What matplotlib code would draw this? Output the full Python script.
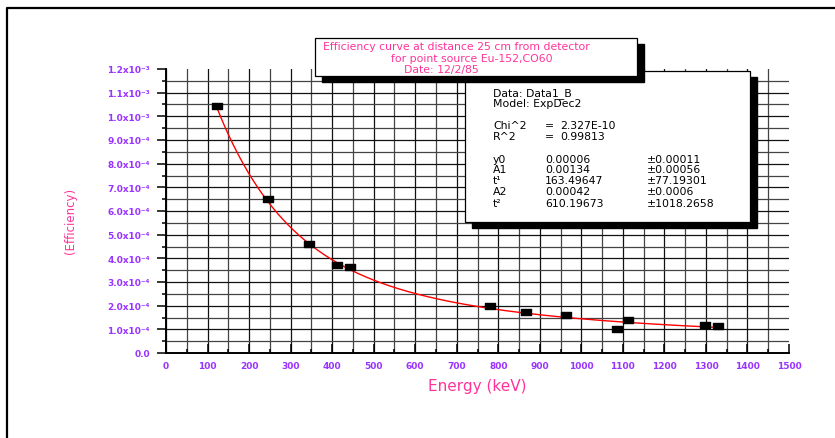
import numpy as np
import matplotlib
matplotlib.use("Agg")
import matplotlib.pyplot as plt
from matplotlib.patches import Rectangle
from matplotlib.lines import Line2D
from matplotlib.path import Path

# measured points (Eu-152, Co-60)
energy = [121.8, 244.7, 344.3, 411.1, 444.0, 778.9, 867.4, 964.1, 1085.8, 1112.1, 1297.0, 1328.0]
efficiency = [10.42e-4, 6.50e-4, 4.60e-4, 3.73e-4, 3.62e-4, 1.99e-4, 1.73e-4,
              1.62e-4, 1.01e-4, 1.41e-4, 1.18e-4, 1.15e-4]

# ExpDec2 fit results
y0, A1, t1, A2, t2 = 0.00006, 0.00134, 163.49647, 0.00042, 610.19673
fit_rows = [
    ("y0", "0.00006", "\u00b10.00011"),
    ("A1", "0.00134", "\u00b10.00056"),
    ("t\u00b9", "163.49647", "\u00b177.19301"),
    ("A2", "0.00042", "\u00b10.0006"),
    ("t\u00b2", "610.19673", "\u00b11018.2658"),
]

ytick_vals = [i * 1e-4 for i in range(13)]
ytick_labels = ["0.0"] + ["%.1fx10\u207b\u2074" % i for i in range(1, 10)] + \
               ["1.0x10\u207b\u00b3", "1.1x10\u207b\u00b3", "1.2x10\u207b\u00b3"]
xtick_vals = list(range(0, 1501, 100))

pink = "#ff3399"
purple = "#9933ff"
W, H = 835, 439

fig = plt.figure(figsize=(8.35, 4.39), dpi=100)
ax = fig.add_axes([166 / W, 1 - 354 / H, 623 / W, 284 / H])

# grid
ax.set_xlim(0, 1500)
ax.set_ylim(0, 1.2e-3)
ax.set_xticks(xtick_vals)
ax.set_xticks(range(50, 1500, 100), minor=True)
ax.set_yticks(ytick_vals)
ax.set_yticks([(i + 0.5) * 1e-4 for i in range(12)], minor=True)
ax.set_xticklabels([str(v) for v in xtick_vals], color=purple, fontsize=6.5, fontweight="bold")
ax.set_yticklabels(ytick_labels, color=purple, fontsize=6.5, fontweight="bold")
ax.grid(True, which="major", color="#111111", lw=0.9)
ax.grid(True, which="minor", color="#444444", lw=0.9)
ax.xaxis.get_gridlines()[-1].set_visible(False)
ax.yaxis.get_gridlines()[-1].set_visible(False)
ax.set_axisbelow(True)

for s in ["top", "right"]:
    ax.spines[s].set_visible(False)
for s in ["left", "bottom"]:
    ax.spines[s].set_linewidth(1.4)
ax.tick_params(axis="y", which="major", direction="out", length=6.5, width=1.1, pad=5)
ax.tick_params(axis="y", which="minor", direction="out", length=3, width=1.1)
ax.tick_params(axis="x", which="major", direction="in", length=6.5, width=1.1, pad=6)
ax.tick_params(axis="x", which="minor", direction="in", length=3, width=1.1)

# fit curve
xx = np.linspace(energy[0], energy[-1], 400)
yy = y0 + A1 * np.exp(-xx / t1) + A2 * np.exp(-xx / t2)
ax.plot(xx, yy, color="red", lw=1.0, zorder=3)

# data markers (flat rectangles)
rect = Path([(-1, -0.55), (1, -0.55), (1, 0.55), (-1, 0.55), (-1, -0.55)],
            [Path.MOVETO, Path.LINETO, Path.LINETO, Path.LINETO, Path.CLOSEPOLY])
ax.plot(energy, efficiency, ls="none", marker=rect, markersize=6.8,
        color="black", zorder=4, clip_on=False)

# axis titles
fig.text(477 / W, 1 - 387 / H, "Energy (keV)", color=pink, fontsize=11,
         ha="center", va="center")
fig.text(70 / W, 1 - 221 / H, "(Efficiency)", color=pink, fontsize=8.5,
         rotation=90, ha="center", va="center")


def shadow_box(x0, y0p, x1, y1p, dx, dy, z):
    # pixel coords from top-left
    fig.patches.append(Rectangle((x0 / W + dx / W, 1 - (y1p + dy) / H),
                                 (x1 - x0) / W, (y1p - y0p) / H,
                                 transform=fig.transFigure, facecolor="black",
                                 edgecolor="black", zorder=z))
    fig.patches.append(Rectangle((x0 / W, 1 - y1p / H), (x1 - x0) / W, (y1p - y0p) / H,
                                 transform=fig.transFigure, facecolor="white",
                                 edgecolor="black", lw=0.9, zorder=z + 0.5))


# fit results box
shadow_box(465, 72, 750, 223, 7, 6, 5)
txt = dict(fontsize=7.8, color="black", va="center", ha="left", zorder=6.8)
fig.text(493 / W, 1 - 94 / H, "Data: Data1_B", **txt)
fig.text(493 / W, 1 - 104 / H, "Model: ExpDec2", **txt)
fig.text(493 / W, 1 - 126 / H, "Chi^2", **txt)
fig.text(545 / W, 1 - 126 / H, "=", **txt)
fig.text(560 / W, 1 - 126 / H, "2.327E-10", **txt)
fig.text(493 / W, 1 - 137 / H, "R^2", **txt)
fig.text(545 / W, 1 - 137 / H, "=", **txt)
fig.text(560 / W, 1 - 137 / H, "0.99813", **txt)
row_y = [160, 170, 181, 192, 204]
for (name, val, err), yp in zip(fit_rows, row_y):
    fig.text(493 / W, 1 - yp / H, name, **txt)
    fig.text(545 / W, 1 - yp / H, val, **txt)
    fig.text(647 / W, 1 - yp / H, err, **txt)

# title box (sits on top of the fit box)
shadow_box(315, 39, 637, 77, 7, 6, 8)
ttl = dict(fontsize=7.8, color=pink, va="center", ha="left", zorder=9)
fig.text(323 / W, 1 - 47 / H, "Efficiency curve at distance 25 cm from detector", **ttl)
fig.text(391 / W, 1 - 59 / H, "for point source Eu-152,CO60", **ttl)
fig.text(404 / W, 1 - 70 / H, "Date: 12/2/85", **ttl)

# outer page frame
fig.lines.append(Line2D([7 / W, 7 / W, 1.0], [0.0, 1 - 9 / H, 1 - 9 / H],
                        transform=fig.transFigure, color="black", lw=1.6))

fig.savefig("out.png", dpi=100)
